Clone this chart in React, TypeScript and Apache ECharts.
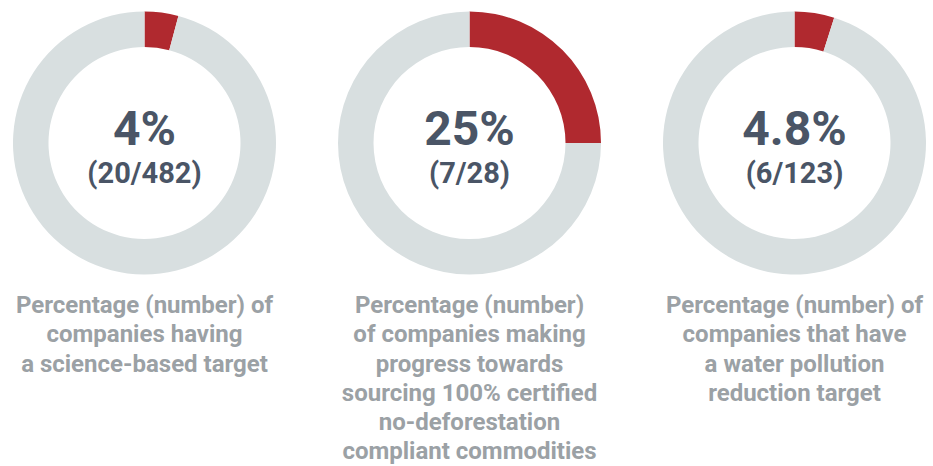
import React, { useEffect, useRef } from "react";
import * as echarts from "echarts";

const numerators = [20, 7, 6];
const denominators = [482, 28, 123];
const percentLabels = ["4%", "25%", "4.8%"];
const fractionLabels = ["(20/482)", "(7/28)", "(6/123)"];
const captions = [
  ["Percentage (number) of", "companies having", "a science-based target"],
  [
    "Percentage (number)",
    "of companies making",
    "progress towards",
    "sourcing 100% certified",
    "no-deforestation",
    "compliant commodities",
  ],
  ["Percentage (number) of", "companies that have", "a water pollution", "reduction target"],
];

const centersX = [144.5, 469.5, 794.5];
const centerY = 143;
const RED = "#b0292f";
const GRAY = "#d8dfe0";
const DARK = "#4a5566";
const CAPTION = "#9ba1a5";
const FONT = "Roboto, 'Noto Sans', sans-serif";

export default function App() {
  const ref = useRef<HTMLDivElement>(null);
  useEffect(() => {
    if (!ref.current) return;
    const chart = echarts.init(ref.current, undefined, { renderer: "svg" });
    const series = numerators.map((n, i) => ({
      type: "pie",
      center: [centersX[i], centerY],
      radius: [96, 131.5],
      startAngle: 90,
      clockwise: true,
      silent: true,
      label: { show: false },
      labelLine: { show: false },
      emphasis: { disabled: true },
      data: [
        { value: n, name: "yes", itemStyle: { color: RED } },
        { value: denominators[i] - n, name: "no", itemStyle: { color: GRAY } },
      ],
    }));
    const graphics: any[] = [];
    centersX.forEach((cx, i) => {
      graphics.push({
        type: "text",
        x: cx,
        y: 128,
        style: {
          text: percentLabels[i],
          fill: DARK,
          font: `bold 48px ${FONT}`,
          textAlign: "center",
          textVerticalAlign: "middle",
        },
      });
      graphics.push({
        type: "text",
        x: cx,
        y: 173,
        style: {
          text: fractionLabels[i],
          fill: DARK,
          font: `bold 29px ${FONT}`,
          textAlign: "center",
          textVerticalAlign: "middle",
        },
      });
      graphics.push({
        type: "text",
        x: cx,
        y: 290.5,
        style: {
          text: captions[i].join("\n"),
          fill: CAPTION,
          font: `bold 24px ${FONT}`,
          lineHeight: 29.2,
          textAlign: "center",
          textVerticalAlign: "top",
        },
      });
    });
    chart.setOption({
      animation: false,
      backgroundColor: "#ffffff",
      series,
      graphic: graphics,
    });
    return () => chart.dispose();
  }, []);
  return <div ref={ref} style={{ width: 933, height: 466, position: "absolute", left: 0, top: 0 }} />;
}
